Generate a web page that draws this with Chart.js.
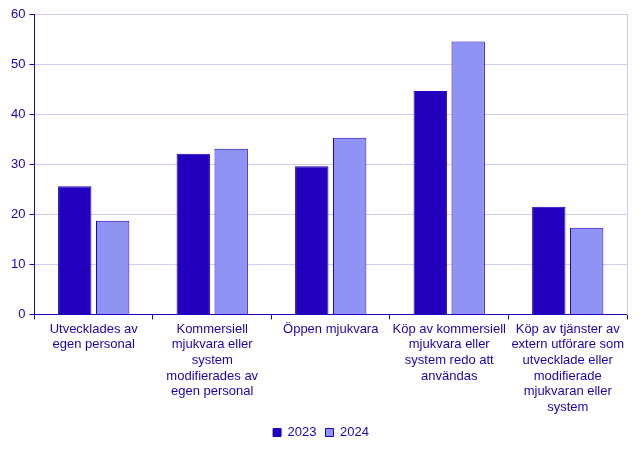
<!DOCTYPE html>
<html><head><meta charset="utf-8">
<script src="https://cdn.jsdelivr.net/npm/chart.js@4"></script>
<style>html,body{margin:0;padding:0;background:#fff}#wrap{width:643px;height:453px}</style>
</head><body><div id="wrap"><canvas id="c" width="643" height="453"></canvas></div>
<script>
const categories = [
  ["Utvecklades av","egen personal"],
  ["Kommersiell","mjukvara eller","system","modifierades av","egen personal"],
  ["Öppen mjukvara"],
  ["Köp av kommersiell","mjukvara eller","system redo att","användas"],
  ["Köp av tjänster av","extern utförare som","utvecklade eller","modifierade","mjukvaran eller","system"]
];
const seriesNames = ["2023","2024"];
const values2023 = [25.6, 32.1, 29.6, 44.6, 21.5];
const values2024 = [18.7, 33.1, 35.3, 54.5, 17.3];
const yTicks = [0,10,20,30,40,50,60];

const dark = '#2200BE';
const light = '#8F94F4';
const text = '#2200B0';
const grid = '#D2CEF2';

Chart.defaults.font.family = '"Liberation Sans", Arial, sans-serif';
Chart.defaults.font.size = 13;
Chart.defaults.color = text;

new Chart(document.getElementById('c'), {
  type: 'bar',
  data: {
    labels: categories,
    datasets: [
      {label: seriesNames[0], data: values2023, backgroundColor: dark, borderColor: dark, borderWidth: 1, categoryPercentage: 0.64, barPercentage: 0.88},
      {label: seriesNames[1], data: values2024, backgroundColor: light, borderColor: dark, borderWidth: 1, categoryPercentage: 0.64, barPercentage: 0.88}
    ]
  },
  options: {
    responsive: false,
    animation: false,
    layout: {padding: {left: 7, right: 8, top: 14, bottom: 4}},
    plugins: {
      legend: {
        position: 'bottom',
        labels: {boxWidth: 8, boxHeight: 8, color: text, padding: 9, font: {size: 13}}
      },
      tooltip: {enabled: false}
    },
    scales: {
      x: {
        grid: {drawOnChartArea: false, drawTicks: true, tickLength: 5, color: dark, offset: true},
        border: {color: dark, width: 1},
        ticks: {autoSkip: false, maxRotation: 0, minRotation: 0, color: text, padding: 2, font: {size: 13, lineHeight: 1.2}}
      },
      y: {
        min: 0, max: 60,
        afterBuildTicks: (axis) => { axis.ticks = yTicks.map(v => ({value: v})); },
        grid: {color: grid, tickColor: dark, tickLength: 5, lineWidth: 1},
        border: {color: dark, width: 1},
        ticks: {color: text, padding: 4, font: {size: 13}}
      },
      y2: {
        position: 'right', min: 0, max: 60, display: true,
        grid: {display: false},
        border: {color: grid, width: 1},
        ticks: {display: false}
      }
    }
  }
});
</script></body></html>
